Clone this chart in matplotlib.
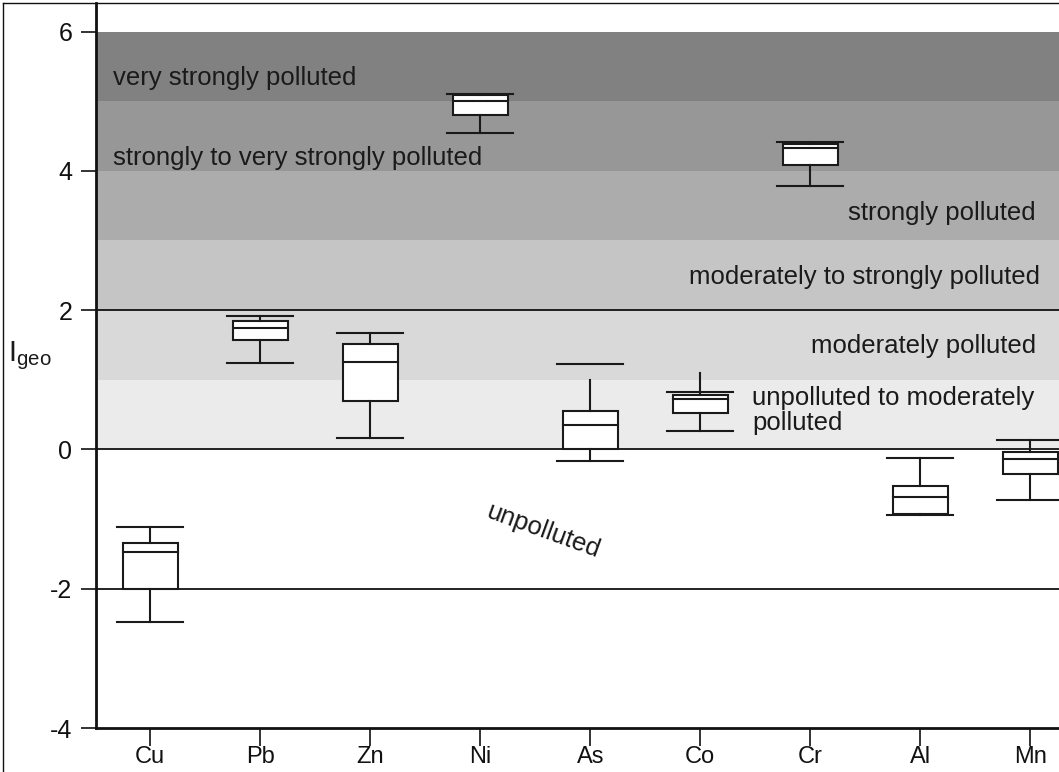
import matplotlib.pyplot as plt
from matplotlib.lines import Line2D

plt.rcParams['font.family'] = ['Liberation Sans', 'DejaVu Sans']
plt.rcParams['axes.unicode_minus'] = False

elements = ['Cu', 'Pb', 'Zn', 'Ni', 'As', 'Co', 'Cr', 'Al', 'Mn']
# box statistics
cap_hi = [-1.12, 1.91, 1.665, 5.10, 1.22, 0.82, 4.42, -0.13, 0.13]
whis_hi = [-1.12, 1.91, 1.665, 5.10, 1.00, 1.10, 4.42, -0.13, 0.13]
q3 = [-1.35, 1.85, 1.52, 5.09, 0.545, 0.78, 4.39, -0.52, -0.04]
med = [-1.48, 1.74, 1.26, 5.00, 0.345, 0.72, 4.33, -0.69, -0.14]
q1 = [-2.00, 1.565, 0.69, 4.80, 0.00, 0.52, 4.08, -0.93, -0.36]
whis_lo = [-2.48, 1.235, 0.16, 4.55, -0.17, 0.27, 3.78, -0.94, -0.72]

# pollution classes
band_lo = [5, 4, 3, 2, 1, 0]
band_hi = [6, 5, 4, 3, 2, 1]
band_col = ['#818181', '#979797', '#acacac', '#c5c5c5', '#d9d9d9', '#ebebeb']

fig = plt.figure(figsize=(10.59, 7.72), dpi=100)
ax = fig.add_axes([96/1059, 44/772, 1 - 96/1059, (728-3)/772])

for lo, hi, c in zip(band_lo, band_hi, band_col):
    ax.axhspan(lo, hi, color=c, lw=0, zorder=0)
for yl in [2, 0, -2]:
    ax.axhline(yl, color='#111111', lw=1.3, zorder=1)

x = range(1, len(elements) + 1)
bw = 0.25
cw = 0.3
kw = dict(color='#1a1a1a', lw=1.5, zorder=3)
for i, xi in enumerate(x):
    ax.add_patch(plt.Rectangle((xi - bw, q1[i]), 2*bw, q3[i] - q1[i],
                               facecolor='white', edgecolor='#1a1a1a', lw=1.5, zorder=2))
    ax.plot([xi - bw, xi + bw], [med[i], med[i]], **kw)
    ax.plot([xi, xi], [q3[i], whis_hi[i]], **kw)
    ax.plot([xi, xi], [q1[i], whis_lo[i]], **kw)
    ax.plot([xi - cw, xi + cw], [cap_hi[i], cap_hi[i]], **kw)
    ax.plot([xi - cw, xi + cw], [whis_lo[i], whis_lo[i]], **kw)

ax.set_xlim(0.509, 9.26)
ax.set_ylim(-4, 6.41)
ax.set_xticks(list(x))
ax.set_xticklabels(elements, fontsize=17)
ax.set_yticks([-4, -2, 0, 2, 4, 6])
ax.tick_params(axis='y', direction='out', length=11, width=1.2, labelsize=18, colors='#111111', pad=6)
ax.tick_params(axis='x', direction='out', length=13, width=1.2, colors='#111111', pad=0)
for s in ['top', 'right']:
    ax.spines[s].set_visible(False)
for s in ['left', 'bottom']:
    ax.spines[s].set_linewidth(2)
    ax.spines[s].set_color('#111111')

fs = 18.5
tc = '#1a1a1a'
ax.text(0.66, 5.33, 'very strongly polluted', fontsize=fs, color=tc, va='center')
ax.text(0.66, 4.19, 'strongly to very strongly polluted', fontsize=fs, color=tc, va='center')
ax.text(9.05, 3.40, 'strongly polluted', fontsize=fs, color=tc, va='center', ha='right')
ax.text(9.09, 2.47, 'moderately to strongly polluted', fontsize=fs, color=tc, va='center', ha='right')
ax.text(9.05, 1.48, 'moderately polluted', fontsize=fs, color=tc, va='center', ha='right')
ax.text(6.47, 0.56, 'unpolluted to moderately\npolluted', fontsize=fs, color=tc,
        va='center', ha='left', linespacing=1.05)
ax.text(4.57, -1.17, 'unpolluted', fontsize=fs, color=tc, va='center', ha='center', rotation=-20)

fig.text(8/1059, 1 - 356/772, r'$\mathregular{I_{geo}}$', fontsize=21, color=tc, va='center')

fig.add_artist(Line2D([3/1059, 3/1059], [0, 1 - 3/772], color='#111111', lw=1.0))
fig.add_artist(Line2D([3/1059, 1], [1 - 3/772, 1 - 3/772], color='#111111', lw=1.0))

fig.savefig('out.png', dpi=100)
